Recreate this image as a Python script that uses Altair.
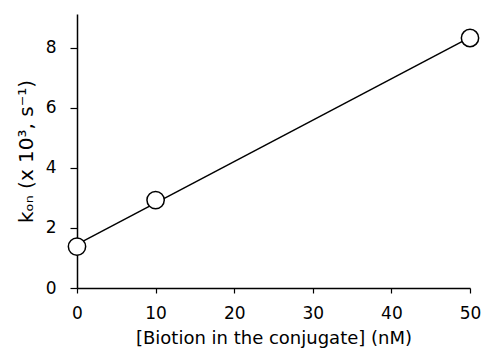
import altair as alt
import pandas as pd

biotin_nM = [0, 10, 50]
kon = [1.38, 2.93, 8.33]
x_ticks = [0, 10, 20, 30, 40, 50]
y_ticks = [0, 2, 4, 6, 8]

df = pd.DataFrame({"x": biotin_nM, "y": kon})

FONT = "DejaVu Sans"

xscale = alt.Scale(domain=[0, 50], nice=False, zero=False)
yscale = alt.Scale(domain=[0, 9.13], nice=False)

xenc = alt.X("x:Q", scale=xscale,
             axis=alt.Axis(title="[Biotion in the conjugate] (nM)", values=x_ticks,
                           grid=False, tickSize=5, labelPadding=12, titlePadding=8,
                           labelFlush=False,
                           domainColor="black", tickColor="black", domainWidth=1.5,
                           tickWidth=1.2, labelColor="black", titleColor="black",
                           labelFontSize=17, titleFontSize=18, titleFontWeight="normal",
                           labelFont=FONT, titleFont=FONT))
yenc = alt.Y("y:Q", scale=yscale,
             axis=alt.Axis(title="kₒₙ (x 10³, s⁻¹)", values=y_ticks, grid=False,
                           tickSize=7, labelPadding=14, titlePadding=9,
                           labelFlush=False,
                           domainColor="black", tickColor="black", domainWidth=1.5,
                           tickWidth=1.2, labelColor="black", titleColor="black",
                           labelFontSize=17, titleFontSize=20, titleFontWeight="normal",
                           labelFont=FONT, titleFont=FONT))

base = alt.Chart(df)

line = base.transform_regression("x", "y", extent=[0, 50]).mark_line(
    color="black", strokeWidth=1.5, clip=False
).encode(x=xenc, y=yenc)

points = base.mark_point(
    shape="circle", filled=True, fill="white", stroke="black", strokeWidth=1.5,
    size=300, opacity=1, clip=False
).encode(x=xenc, y=yenc)

chart = (line + points).properties(
    width=393, height=274,
    autosize=alt.AutoSizeParams(type="none"),
    padding={"left": 77, "top": 14, "right": 14, "bottom": 68},
    background="white",
).configure_view(stroke=None)

chart.save("out.html", embed_options={"renderer": "svg", "actions": False})
